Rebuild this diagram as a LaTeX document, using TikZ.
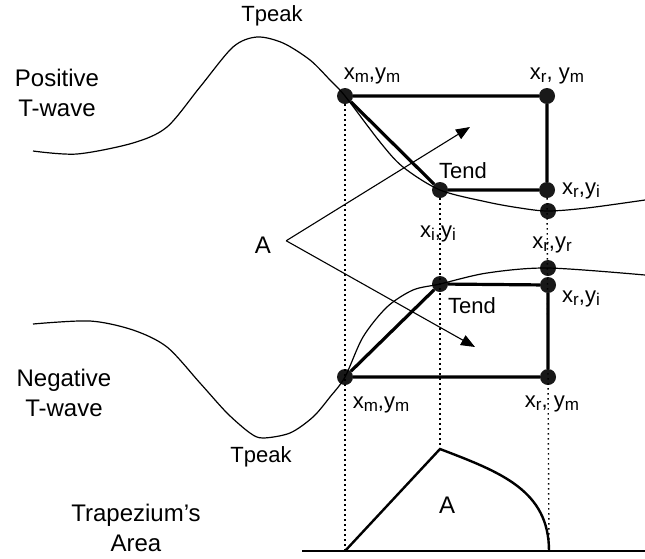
\documentclass[tikz,border=0pt]{standalone}
\usepackage{fontspec}
\setmainfont{Liberation Sans}
\usetikzlibrary{arrows.meta}
\newcommand{\sub}[1]{\raisebox{-3pt}{\fontsize{17}{17}\selectfont #1}}

\begin{document}
\begin{tikzpicture}[x=1pt, y=-1pt,
                    dot/.style={circle, fill=black!90, inner sep=0pt, minimum size=16pt},
                    lbl/.style={inner sep=0pt, anchor=base, font=\fontsize{22}{26}\selectfont},
                    side/.style={inner sep=0pt, align=center, font=\fontsize{24}{30}\selectfont},
                    edge/.style={line width=3.2pt},
                    wave/.style={line width=1.2pt},
                    guide/.style={line width=1.4pt, dash pattern=on 1.4pt off 3.6pt},
                    pointer/.style={line width=1.1pt, -{Triangle[length=14pt, width=11pt]}}]
                \useasboundingbox (0,0) rectangle (645,558);

                % positive T-wave
                \node[dot] (tm)   at (345,96)  {};
                \node[dot] (trm)  at (547,96)  {};
                \node[dot] (tend) at (440,190) {};
                \node[dot] (tri)  at (547,190) {};
                \node[dot] (trr)  at (548,211) {};

                % negative T-wave
                \node[dot] (bm)   at (345,377) {};
                \node[dot] (brm)  at (548,377) {};
                \node[dot] (bend) at (440,284) {};
                \node[dot] (bri)  at (548,285) {};
                \node[dot] (brr)  at (548,268) {};

                % trapezium's area
                \coordinate (b0) at (302,551);
                \coordinate (b1) at (345,551);
                \coordinate (b3) at (549,551);
                \coordinate (b4) at (645,551);
                \coordinate (apex) at (440,449);

                \draw[guide] (tm) -- (b1);
                \draw[guide] (tend) -- (apex);
                \draw[guide] (tri) -- (b3);

                \draw[wave] plot[smooth] coordinates {(33,151) (77,154) (133,143) (167,127) (200,87) (233,47)
                              (257,37) (283,43) (310,60) (330,80) (tm) (380,142) (403,167) (tend)
                              (487,202) (520,208) (trr) (587,208) (645,200)};
                \draw[wave] plot[smooth] coordinates {(33,324) (90,321) (133,330) (167,347) (200,383) (227,413)
                              (250,433) (263,438) (290,433) (313,417) (330,397) (bm) (363,337) (387,307)
                              (413,290) (bend) (487,273) (brr) (645,275)};

                \draw[edge] (tm) -- (trm) -- (tri) -- (tend) -- (tm);
                \draw[edge] (bend) -- (bri) -- (brm) -- (bm) -- (bend);

                \draw[line width=2pt] (b0) -- (b4);
                \draw[line width=2.4pt] (b1) -- (apex) .. controls (500,472) and (549,490) .. (b3);

                % labels
                \node[side] (pos) at (57,93)  {Positive\\T-wave};
                \node[side] (neg) at (64,393) {Negative\\T-wave};
                \node[side] (trap) at (136,528) {Trapezium’s\\Area};

                \node[lbl] (tpk1) at (272,21)  {Tpeak};
                \node[lbl] (l1)   at (372,79)  {x\sub{m},y\sub{m}};
                \node[lbl] (l2)   at (557,79)  {x\sub{r}, y\sub{m}};
                \node[lbl] (tnd1) at (463,178) {Tend};
                \node[lbl] (l3)   at (581,194) {x\sub{r},y\sub{i}};
                \node[lbl] (l4)   at (438,237) {x\sub{i},y\sub{i}};
                \node[lbl] (l5)   at (552,248) {x\sub{r},y\sub{r}};
                \node[lbl] (tnd2) at (472,313) {Tend};
                \node[lbl] (l6)   at (581,302) {x\sub{r},y\sub{i}};
                \node[lbl] (l7)   at (381,408) {x\sub{m},y\sub{m}};
                \node[lbl] (l8)   at (552,407) {x\sub{r}, y\sub{m}};
                \node[lbl] (tpk2) at (261,462) {Tpeak};
                \node[lbl, font=\fontsize{24}{28}\selectfont] (area) at (447,513) {A};

                \node[lbl, font=\fontsize{24}{28}\selectfont] (alab) at (263,253) {A};
                \coordinate (tipu) at (470,127);
                \coordinate (tipl) at (475,347);
                \draw[pointer] ([shift={(15pt,4pt)}]alab.east) -- (tipu);
                \draw[pointer] ([shift={(15pt,4pt)}]alab.east) -- (tipl);
            \end{tikzpicture}
\end{document}
